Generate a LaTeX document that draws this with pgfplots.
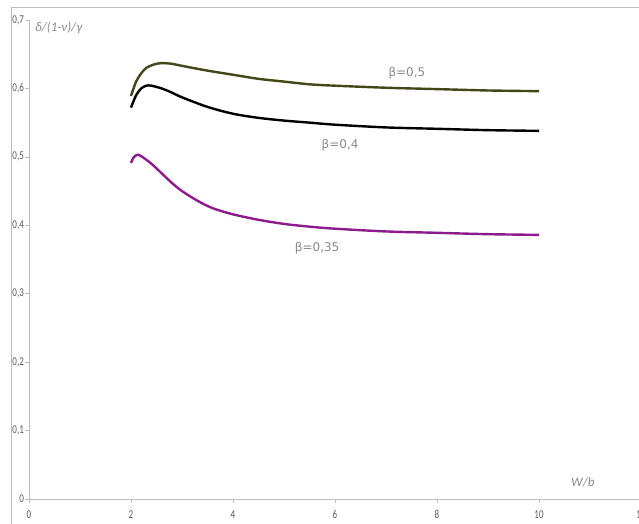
\documentclass[border=0pt]{standalone}
\usepackage{pgfplots}
\pgfplotsset{compat=1.18}
\usepackage{fontspec}
\setmainfont{Carlito}
\newfontfamily\dejavu{DejaVu Sans}
\definecolor{olivec}{HTML}{45451A}
\definecolor{purpc}{HTML}{8E1B8E}
\definecolor{axgray}{HTML}{BDBDBD}
\definecolor{txtgray}{HTML}{595959}
\definecolor{lblgray}{HTML}{8A8A8A}
\begin{document}
\begin{tikzpicture}
\useasboundingbox (0,0) rectangle (639pt,524pt);
\draw[axgray, line width=0.8pt] (11.5pt,-10pt) -- (11.5pt,517pt) -- (650pt,517pt);
\begin{axis}[
  at={(29pt,25pt)}, anchor=south west,
  scale only axis, width=612pt, height=479pt,
  xmin=0, xmax=12, ymin=0, ymax=0.7,
  axis x line=bottom, axis y line=left,
  axis line style={-, axgray, line width=0.8pt},
  xtick={0,2,...,12}, ytick={0,0.1,...,0.7},
  tick align=outside, major tick length=4pt,
  tick style={axgray, line width=0.6pt},
  /pgf/number format/assume math mode=true,
  /pgf/number format/use comma,
  yticklabel style={/pgf/number format/fixed, /pgf/number format/precision=1, xscale=0.75, xshift=2pt},
  tick label style={font=\fontsize{12}{14}\selectfont, color=txtgray},
  xticklabel style={yshift=-4pt, xscale=0.75},
  clip=false,
]
\addplot[olivec, line width=2.4pt, smooth] coordinates {
 (2.0,0.589) (2.1,0.610) (2.2,0.622) (2.3,0.630) (2.45,0.635) (2.6,0.637)
 (2.8,0.636) (3.0,0.633) (3.5,0.626) (4.0,0.620) (4.5,0.614) (5.0,0.610)
 (5.5,0.606) (6.0,0.604) (7.0,0.601) (8.0,0.599) (9.0,0.597) (10.0,0.596)};
\addplot[black, line width=2.4pt, smooth] coordinates {
 (2.0,0.572) (2.1,0.590) (2.2,0.600) (2.3,0.604) (2.4,0.604) (2.6,0.600)
 (2.8,0.594) (3.0,0.587) (3.5,0.573) (4.0,0.563) (4.5,0.557) (5.0,0.553)
 (5.5,0.550) (6.0,0.547) (7.0,0.543) (8.0,0.541) (9.0,0.539) (10.0,0.538)};
\addplot[purpc, line width=2.4pt, smooth] coordinates {
 (2.0,0.491) (2.05,0.499) (2.12,0.503) (2.2,0.501) (2.4,0.490) (2.6,0.476)
 (2.8,0.462) (3.0,0.450) (3.3,0.436) (3.6,0.425) (4.0,0.416) (4.5,0.408)
 (5.0,0.402) (5.5,0.398) (6.0,0.395) (7.0,0.391) (8.0,0.389) (9.0,0.387) (10.0,0.386)};
\node[lblgray, font=\dejavu\fontsize{12}{14}\selectfont] at (axis cs:7.41,0.6225) {β=0,5};
\node[lblgray, font=\dejavu\fontsize{12}{14}\selectfont] at (axis cs:6.1,0.517) {β=0,4};
\node[lblgray, font=\dejavu\fontsize{12}{14}\selectfont] at (axis cs:5.65,0.367) {β=0,35};
\node[anchor=west, lblgray, font=\itshape\fontsize{13}{15}\selectfont] at (axis cs:0.05,0.688) {δ/(1-ν)/γ};
\node[lblgray, font=\itshape\fontsize{13}{15}\selectfont] at (axis cs:10.86,0.024) {W/b};
\end{axis}
\end{tikzpicture}
\end{document}
